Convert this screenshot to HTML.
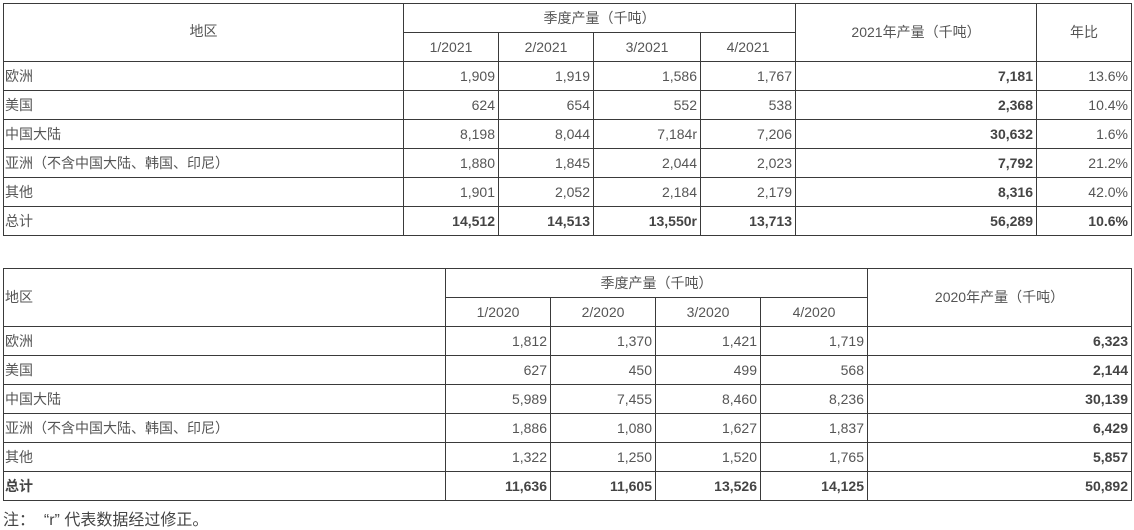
<!DOCTYPE html>
<html><head><meta charset="utf-8"><style>
html,body{margin:0;padding:0;background:#fff;width:1134px;height:529px;overflow:hidden;}
body{font-family:"Liberation Sans","Noto Sans CJK SC",sans-serif;font-size:14px;color:#555;}
table{position:absolute;left:3px;border-collapse:collapse;table-layout:fixed;}
td{border:1px solid #3a3a3a;padding:0 3px;height:28px;line-height:15px;white-space:nowrap;overflow:hidden;text-align:right;vertical-align:middle;}
td.l{text-align:left;padding-left:1px;}
td.c{text-align:center;}
b{color:#444;font-size:14px;}
.note{position:absolute;left:3px;top:506px;font-size:16px;color:#444;white-space:pre;}
</style></head><body>
<table style="top:3px;width:1128px;">
<colgroup><col style="width:400px"><col style="width:95px"><col style="width:95px"><col style="width:107px"><col style="width:95px"><col style="width:241px"><col style="width:95px"></colgroup>
<tr><td class="c" rowspan="2" style="vertical-align:top;padding-top:20px;height:36px">地区</td><td class="c" colspan="4">季度产量（千吨）</td><td class="c" rowspan="2" style="vertical-align:top;padding-top:21px;height:35px">2021年产量（千吨）</td><td class="c" rowspan="2" style="vertical-align:top;padding-top:21px;height:35px">年比</td></tr>
<tr><td class="c">1/2021</td><td class="c">2/2021</td><td class="c">3/2021</td><td class="c">4/2021</td></tr>
<tr><td class="l">欧洲</td><td>1,909</td><td>1,919</td><td>1,586</td><td>1,767</td><td><b>7,181</b></td><td>13.6%</td></tr>
<tr><td class="l">美国</td><td>624</td><td>654</td><td>552</td><td>538</td><td><b>2,368</b></td><td>10.4%</td></tr>
<tr><td class="l">中国大陆</td><td>8,198</td><td>8,044</td><td>7,184r</td><td>7,206</td><td><b>30,632</b></td><td>1.6%</td></tr>
<tr><td class="l">亚洲（不含中国大陆、韩国、印尼）</td><td>1,880</td><td>1,845</td><td>2,044</td><td>2,023</td><td><b>7,792</b></td><td>21.2%</td></tr>
<tr><td class="l">其他</td><td>1,901</td><td>2,052</td><td>2,184</td><td>2,179</td><td><b>8,316</b></td><td>42.0%</td></tr>
<tr><td class="l">总计</td><td><b>14,512</b></td><td><b>14,513</b></td><td><b>13,550r</b></td><td><b>13,713</b></td><td><b>56,289</b></td><td><b>10.6%</b></td></tr>
</table>
<table style="top:268px;width:1128px;">
<colgroup><col style="width:442px"><col style="width:105px"><col style="width:105px"><col style="width:105px"><col style="width:107px"><col style="width:264px"></colgroup>
<tr><td class="l" rowspan="2">地区</td><td class="c" colspan="4">季度产量（千吨）</td><td class="c" rowspan="2">2020年产量（千吨）</td></tr>
<tr><td class="c">1/2020</td><td class="c">2/2020</td><td class="c">3/2020</td><td class="c">4/2020</td></tr>
<tr><td class="l">欧洲</td><td>1,812</td><td>1,370</td><td>1,421</td><td>1,719</td><td><b>6,323</b></td></tr>
<tr><td class="l">美国</td><td>627</td><td>450</td><td>499</td><td>568</td><td><b>2,144</b></td></tr>
<tr><td class="l">中国大陆</td><td>5,989</td><td>7,455</td><td>8,460</td><td>8,236</td><td><b>30,139</b></td></tr>
<tr><td class="l">亚洲（不含中国大陆、韩国、印尼）</td><td>1,886</td><td>1,080</td><td>1,627</td><td>1,837</td><td><b>6,429</b></td></tr>
<tr><td class="l">其他</td><td>1,322</td><td>1,250</td><td>1,520</td><td>1,765</td><td><b>5,857</b></td></tr>
<tr><td class="l"><b>总计</b></td><td><b>11,636</b></td><td><b>11,605</b></td><td><b>13,526</b></td><td><b>14,125</b></td><td><b>50,892</b></td></tr>
</table>
<div class="note">注：  “r” 代表数据经过修正。</div>
</body></html>
